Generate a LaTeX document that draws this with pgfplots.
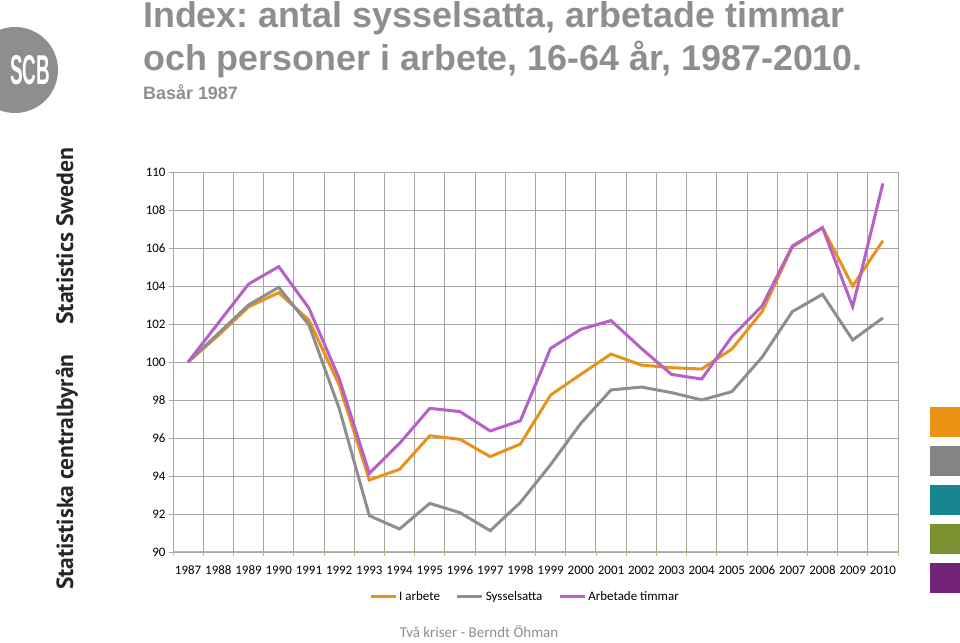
\documentclass[border=0pt]{standalone}
\usepackage{pgfplots}
\pgfplotsset{compat=1.18}
\usepackage{pgfplotstable}
\usepackage{fontspec}
\setmainfont{Carlito}[RawFeature={+lnum}]
\newfontfamily\arialfont{Liberation Sans}
\newfontfamily\ptsans{PT Sans}
\definecolor{cOrange}{HTML}{E8921A}
\definecolor{cGray}{HTML}{8E8E8E}
\definecolor{cPurple}{HTML}{B660C8}
\definecolor{gridc}{HTML}{A6A6A6}
\definecolor{axc}{HTML}{E3B060}
\definecolor{titlec}{HTML}{8E8E8E}
\definecolor{sqOrange}{HTML}{EB9214}
\definecolor{sqGray}{HTML}{848484}
\definecolor{sqTeal}{HTML}{17858F}
\definecolor{sqOlive}{HTML}{7B9030}
\definecolor{sqPurple}{HTML}{742478}
\frenchspacing

\pgfplotstableread{
x arbete syss timmar
0 100 100 100
1 101.4 101.5 102.05
2 102.9 103.0 104.1
3 103.65 103.93 105.02
4 102.2 101.95 102.83
5 98.8 97.56 99.14
6 93.79 91.91 94.14
7 94.35 91.21 95.72
8 96.12 92.56 97.56
9 95.93 92.07 97.39
10 95.02 91.12 96.37
11 95.68 92.61 96.91
12 98.26 94.6 100.72
13 99.35 96.77 101.72
14 100.42 98.53 102.18
15 99.84 98.68 100.72
16 99.7 98.39 99.35
17 99.63 98.0 99.1
18 100.68 98.44 101.33
19 102.65 100.25 102.95
20 106.05 102.65 106.1
21 107.07 103.56 107.07
22 104.0 101.16 102.91
23 106.38 102.32 109.4
}\datatable

\begin{document}
\begin{tikzpicture}[x=1bp,y=1bp]
\path[use as bounding box] (0,0) rectangle (960,643);
% logo
\fill[titlec] (15,573) circle (43);
\node[white,inner sep=0] at (30,573) {\scalebox{0.5}[1.1]{\arialfont\bfseries\fontsize{38}{38}\selectfont SCB}};
% title
\node[anchor=base west,inner sep=0,text=titlec] at (143,615) {\arialfont\bfseries\fontsize{36}{36}\selectfont Index: antal sysselsatta, arbetade timmar};
\node[anchor=base west,inner sep=0,text=titlec] at (143,572) {\arialfont\bfseries\fontsize{36}{36}\selectfont och personer i arbete, 16-64 år, 1987-2010.};
\node[anchor=base west,inner sep=0,text=titlec] at (143,543) {\arialfont\bfseries\fontsize{18}{18}\selectfont Basår 1987};
% side texts
\node[rotate=90,anchor=base west,inner sep=0,text=black!85] at (73,318) {\ptsans\bfseries\fontsize{23.8}{24}\selectfont Statistics Sweden};
\node[rotate=90,anchor=base west,inner sep=0,text=black!85] at (73,53) {\ptsans\bfseries\fontsize{23.5}{24}\selectfont Statistiska centralbyrån};
% squares
\fill[sqOrange] (930,206) rectangle (962,236);
\fill[sqGray] (930,167) rectangle (962,197);
\fill[sqTeal] (930,128) rectangle (962,158);
\fill[sqOlive] (930,89) rectangle (962,119);
\fill[sqPurple] (930,50) rectangle (962,80);
% footer
\node[anchor=base,inner sep=0,text=titlec] at (479,5) {\fontsize{15}{15}\selectfont Två kriser - Berndt Öhman};

\begin{axis}[at={(173bp,91bp)}, anchor=south west, scale only axis,
  width=725bp, height=380bp,
  xmin=-0.5, xmax=23.5, ymin=90, ymax=110,
  xtick={0,...,23},
  xticklabels={1987,1988,1989,1990,1991,1992,1993,1994,1995,1996,1997,1998,1999,2000,2001,2002,2003,2004,2005,2006,2007,2008,2009,2010},
  minor xtick={-0.5,0.5,...,23.5},
  xminorgrids, ymajorgrids,
  ytick={90,92,...,110},
  grid style={gridc, line width=0.9bp},
  minor grid style={gridc, line width=0.9bp},
  major x tick style={draw=none},
  minor x tick style={axc, line width=0.8bp},
  y tick style={gridc, line width=0.8bp},
  tick align=outside, tick pos=left,
  major tick length=4bp, minor tick length=4bp,
  axis line style={draw=none},
  ticklabel style={font=\fontsize{13}{13}\selectfont},
  xticklabel style={anchor=base, yshift=-19bp},
  /pgf/number format/assume math mode=true,
  legend style={draw=none, fill=none, at={(0.4855,-0.118)}, anchor=center,
    legend columns=3, font=\fontsize{13}{13}\selectfont,
    /tikz/every even column/.append style={column sep=14bp}},
  legend image code/.code={\draw[#1] (0,0) -- (25bp,0);},
]
\addplot[cOrange, line width=3bp] table[x=x,y=arbete] {\datatable};
\addlegendentry{I arbete}
\addplot[cGray, line width=3bp] table[x=x,y=syss] {\datatable};
\addlegendentry{Sysselsatta}
\addplot[cPurple, line width=3bp] table[x=x,y=timmar] {\datatable};
\addlegendentry{Arbetade timmar}
\draw[axc, line width=1bp] (axis cs:-0.5,90) -- (axis cs:23.5,90);
\end{axis}
\end{tikzpicture}
\end{document}
